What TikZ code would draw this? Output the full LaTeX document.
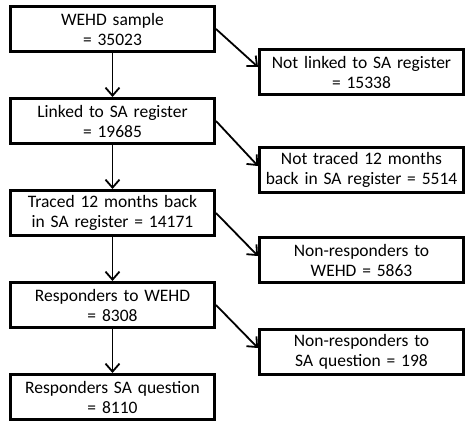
\documentclass[tikz,border=0pt]{standalone}
\usepackage{fontspec}
\setmainfont{Carlito}
\usetikzlibrary{arrows.meta,positioning}

\begin{document}
\begin{tikzpicture}[>={Straight Barb[length=8pt,width=14pt]}, node distance=44pt,
  stage/.style={draw, line width=3pt, align=center, text width=200pt, minimum height=45pt, inner sep=2pt, font=\fontsize{17.5}{20}\selectfont},
  drop/.style={stage},
  flow/.style={->, line width=1.8pt}]
\useasboundingbox (0,0) rectangle (472pt,-424pt);
\node[stage, anchor=north west] (sample) at (9pt,-5pt) {WEHD sample\\= 35023};
\node[stage, below=of sample] (linked) {Linked to SA register\\= 19685};
\node[stage, below=of linked] (traced) {Traced 12 months back\\in SA register = 14171};
\node[stage, below=of traced] (resp) {Responders to WEHD\\= 8308};
\node[stage, below=of resp] (respsa) {Responders SA question\\= 8110};
\node[drop, below right=19pt and 42pt of sample.east] (notlinked) {Not linked to SA register\\= 15338};
\node[drop, below right=25pt and 42pt of linked.east] (nottraced) {Not traced 12 months\\back in SA register = 5514};
\node[drop, below right=23pt and 42pt of traced.east] (nonresp) {Non-responders to\\WEHD = 5863};
\node[drop, below right=23pt and 42pt of resp.east] (nonrespsa) {Non-responders to\\SA question = 198};
\draw[flow] (sample) -- (linked);
\draw[flow] (linked) -- (traced);
\draw[flow] (traced) -- (resp);
\draw[flow] (resp) -- (respsa);
\draw[flow] (sample.east) -- ([yshift=5pt]notlinked.west);
\draw[flow] (linked.east) -- ([yshift=4pt]nottraced.west);
\draw[flow] (traced.east) -- ([yshift=4pt]nonresp.west);
\draw[flow] (resp.east) -- ([yshift=4pt]nonrespsa.west);
\end{tikzpicture}
\end{document}
